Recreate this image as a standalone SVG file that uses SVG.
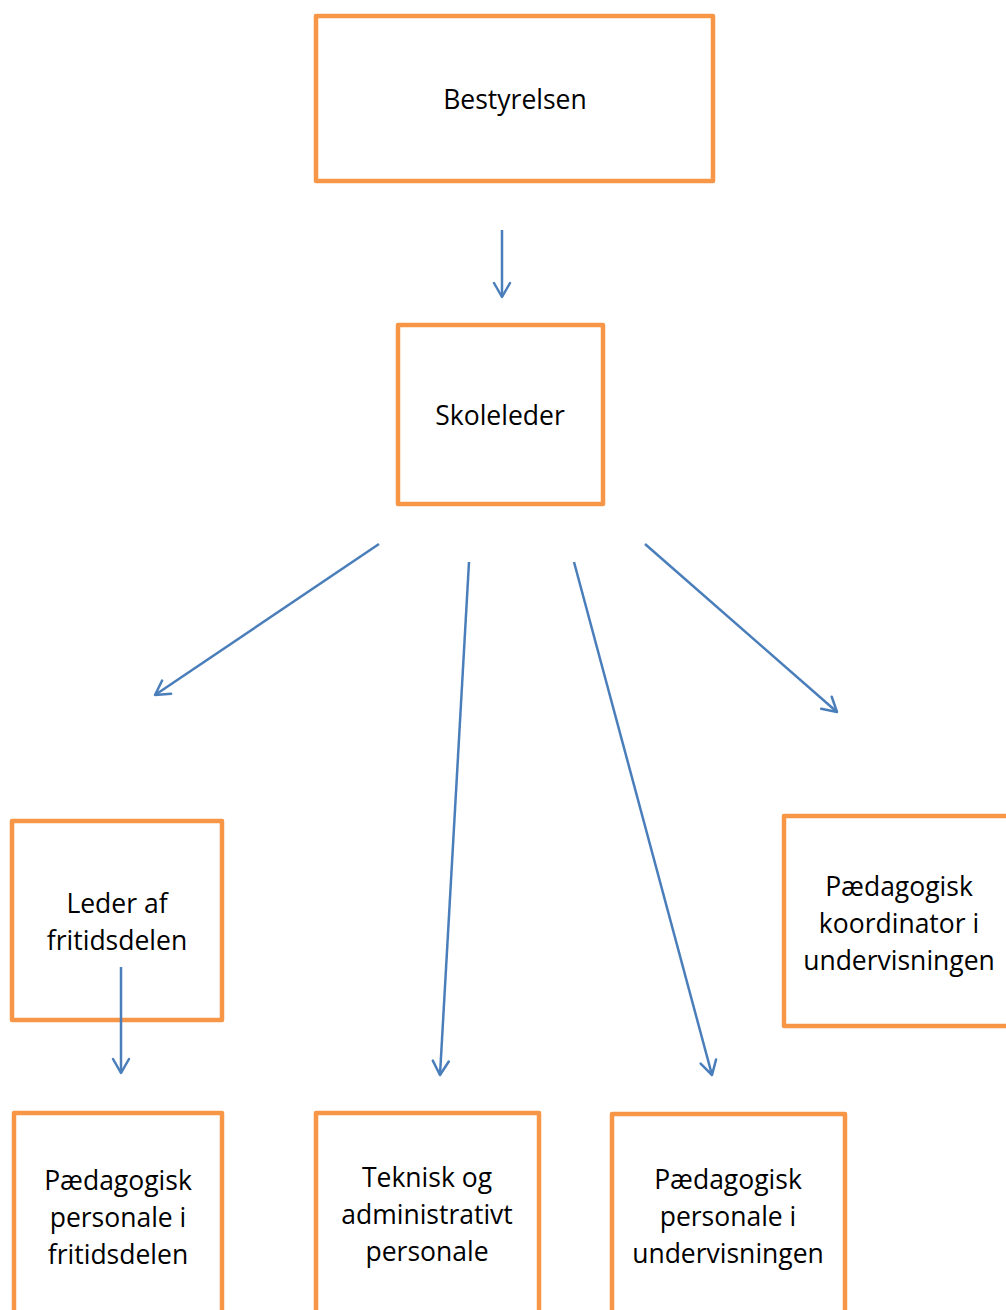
<svg xmlns="http://www.w3.org/2000/svg" width="1006" height="1310" viewBox="0 0 1006 1310">
<style>
.box{fill:#fff;stroke:#F79646;stroke-width:4.5;stroke-linejoin:round}
.t{font-family:"Comic Sans MS","Open Sans","DejaVu Sans",sans-serif;font-size:26.5px;fill:#000;text-anchor:middle}
.c{fill:none;stroke:#4A7EBB;stroke-width:2.5}
</style>
<defs>
<marker id="a" viewBox="0 0 20 20" refX="18" refY="10" markerWidth="20" markerHeight="20" markerUnits="userSpaceOnUse" orient="auto">
<path d="M4,2 L18,10 L4,18" fill="none" stroke="#4A7EBB" stroke-width="2.5" stroke-linecap="round" stroke-linejoin="round"/>
</marker>
</defs>
<rect width="1006" height="1310" fill="#fff"/>
<g id="n1"><rect class="box" x="316" y="16" width="397" height="165"/><text class="t" x="515" y="109">Bestyrelsen</text></g>
<g id="n2"><rect class="box" x="398" y="325" width="205" height="179"/><text class="t" x="500" y="425">Skoleleder</text></g>
<g id="n3"><rect class="box" x="12" y="821" width="210" height="199"/><text class="t" x="117" y="913">Leder af</text><text class="t" x="117" y="950">fritidsdelen</text></g>
<g id="n4"><rect class="box" x="784" y="816" width="250" height="210"/><text class="t" x="899" y="896">Pædagogisk</text><text class="t" x="899" y="933">koordinator i</text><text class="t" x="899" y="970">undervisningen</text></g>
<g id="n5"><rect class="box" x="14" y="1113" width="208" height="250"/><text class="t" x="118" y="1190">Pædagogisk</text><text class="t" x="118" y="1227">personale i</text><text class="t" x="118" y="1264">fritidsdelen</text></g>
<g id="n6"><rect class="box" x="316" y="1113" width="223" height="250"/><text class="t" x="427" y="1187">Teknisk og</text><text class="t" x="427" y="1224">administrativt</text><text class="t" x="427" y="1261">personale</text></g>
<g id="n7"><rect class="box" x="612" y="1114" width="233" height="250"/><text class="t" x="728" y="1189">Pædagogisk</text><text class="t" x="728" y="1226">personale i</text><text class="t" x="728" y="1263">undervisningen</text></g>
<g id="connectors">
<line class="c" x1="502" y1="230" x2="502" y2="297" marker-end="url(#a)"/>
<line class="c" x1="379" y1="544" x2="155" y2="695" marker-end="url(#a)"/>
<line class="c" x1="469" y1="562" x2="440" y2="1075" marker-end="url(#a)"/>
<line class="c" x1="574" y1="562" x2="712" y2="1075" marker-end="url(#a)"/>
<line class="c" x1="645" y1="544" x2="837" y2="712" marker-end="url(#a)"/>
<line class="c" x1="121" y1="967" x2="121" y2="1073" marker-end="url(#a)"/>
</g>
</svg>
